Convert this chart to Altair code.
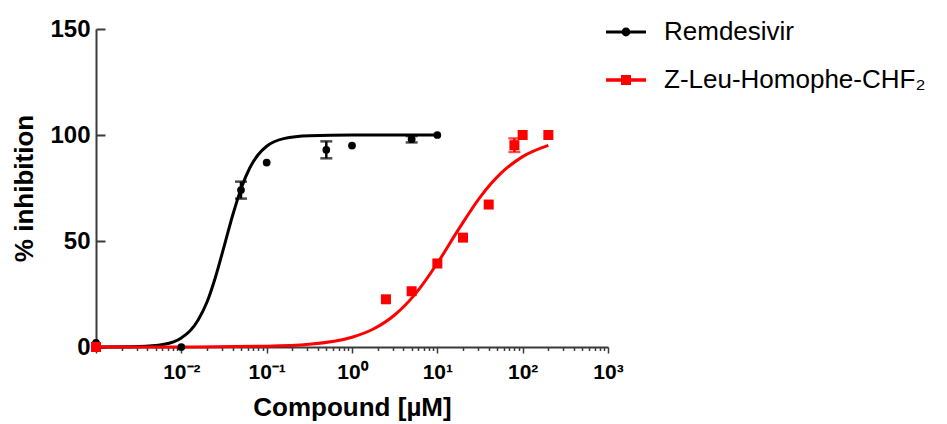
import json
import altair as alt
import pandas as pd

FONT = "Liberation Sans"
SERIES = ["Remdesivir", "Z-Leu-Homophe-CHF₂"]
COLORS = ["#000000", "#ff0000"]

# measured data points (concentration in µM, % inhibition, error)
rem_conc = [0.001, 0.01, 0.05, 0.1, 0.5, 1, 5, 10]
rem_inh = [2, 0, 74, 87, 93, 95, 98, 100]
rem_err = [0, 0, 4, 0, 4, 0, 1.5, 0]

zlh_conc = [0.001, 2.5, 5, 10, 20, 40, 80, 100, 200]
zlh_inh = [0, 22.5, 26.3, 39.4, 51.6, 67.2, 95.2, 100, 100]
zlh_err = [0, 0, 0, 0, 0, 0, 3.2, 0, 0]

# fitted curves
rem_fit_conc = [0.001, 0.00316, 0.0063, 0.01, 0.0126, 0.0158, 0.02, 0.0251, 0.0316,
                0.0398, 0.0501, 0.0631, 0.0794, 0.1, 0.158, 0.316, 1, 3.16, 10]
rem_fit_inh = [0.0, 0.2, 1.3, 4.3, 7.5, 12.9, 21.2, 32.9, 47.2,
               61.9, 74.7, 84.3, 90.7, 94.7, 98.3, 99.7, 100, 100, 100]

zlh_fit_conc = [0.001, 0.01, 0.1, 0.316, 1, 1.78, 3.16, 5.62, 10, 17.8, 31.6, 56.2, 100, 200]
zlh_fit_inh = [0.0, 0.03, 0.4, 1.3, 4.6, 8.5, 15.1, 25.4, 39.5, 55.6, 70.6, 82.1, 89.8, 95.1]

# axes
y_ticks = [0, 50, 100, 150]
x_decade_labels = ["", "10⁻²", "10⁻¹", "10⁰", "10¹", "10²", "10³"]
minor_mantissas = [1, 2, 3, 4, 5, 6, 7, 8, 9]
decade_exps = [-3, -2, -1, 0, 1, 2]

x_values = [float(f"{m}e{k}") for k in decade_exps for m in minor_mantissas] + [1000.0]

points = pd.concat([
    pd.DataFrame({"series": SERIES[0], "conc": rem_conc, "inh": rem_inh, "err": rem_err}),
    pd.DataFrame({"series": SERIES[1], "conc": zlh_conc, "inh": zlh_inh, "err": zlh_err}),
], ignore_index=True)
points["lo"] = points["inh"] - points["err"]
points["hi"] = points["inh"] + points["err"]

curves = pd.concat([
    pd.DataFrame({"series": SERIES[0], "conc": rem_fit_conc, "inh": rem_fit_inh}),
    pd.DataFrame({"series": SERIES[1], "conc": zlh_fit_conc, "inh": zlh_fit_inh}),
], ignore_index=True)

AX = "#3a3a3a"
x_scale = alt.Scale(type="log", domain=[0.001, 1000], nice=False)
y_scale = alt.Scale(domain=[0, 150], nice=False, zero=False)

major_test = "abs(log(datum.value)/LN10 - round(log(datum.value)/LN10)) < 0.01"
label_expr = ("(" + major_test + ") ? " + json.dumps(x_decade_labels, ensure_ascii=False)
              + "[round(log(datum.value)/LN10) + 3] : ''")

x_axis = alt.Axis(
    values=x_values, labelExpr=label_expr, labelOverlap=False, labelFlush=False,
    tickSize={"condition": {"test": major_test, "value": 6}, "value": 3.5},
    tickWidth=1.5, tickColor=AX, domainColor=AX, domainWidth=2, grid=False,
    labelFont=FONT, labelFontSize=21, labelFontWeight="bold", labelColor="#000",
    labelPadding=8,
    title="Compound [µM]", titleFont=FONT, titleFontSize=26, titleFontWeight="bold",
    titleColor="#000", titlePadding=12,
)
x_enc = alt.X("conc:Q", scale=x_scale, axis=x_axis)

y_left = alt.Axis(
    values=y_ticks, ticks=False, grid=False, domainColor=AX, domainWidth=2,
    labelFont=FONT, labelFontSize=24, labelFontWeight="bold", labelColor="#000",
    labelPadding=6,
    title="% inhibition", titleFont=FONT, titleFontSize=26, titleFontWeight="bold",
    titleColor="#000", titlePadding=12,
)
# second left axis moved inside the plot: its outward ticks become the inward ticks
y_inner = alt.Axis(
    orient="left", offset=-9, values=y_ticks, ticks=True, tickSize=9, tickWidth=2,
    tickColor=AX, labels=False, domain=False, grid=False, title=None,
)


def stroke_enc():
    return alt.Stroke("series:N", scale=alt.Scale(domain=SERIES, range=COLORS), legend=None)


def fill_enc():
    return alt.Fill("series:N", scale=alt.Scale(domain=SERIES, range=COLORS), legend=None)


base_pts = alt.Chart(points)

# legend symbols: line with a dot / line with a square
path_circle = ("M-1,-0.075H-0.2V0.075H-1Z M0.2,-0.075H1V0.075H0.2Z "
               "M-0.22,0A0.22,0.22 0 1,1 0.22,0A0.22,0.22 0 1,1 -0.22,0Z")
path_square = ("M-1,-0.085H-0.24V0.085H-1Z M0.24,-0.085H1V0.085H0.24Z "
               "M-0.25,-0.25H0.25V0.25H-0.25Z")

leg = alt.Legend(
    orient="none", legendX=510, legendY=-17, title=None, direction="vertical",
    labelFont=FONT, labelFontSize=26, labelColor="#000", labelLimit=500,
    symbolSize=1600, symbolStrokeWidth=0, labelOffset=18, rowPadding=15, padding=0,
)
legend_layer = base_pts.transform_filter("false").mark_point(filled=True, opacity=1).encode(
    x=x_enc,
    y=alt.Y("inh:Q", scale=y_scale, axis=None),
    color=alt.Color("series:N", scale=alt.Scale(domain=SERIES, range=COLORS), legend=leg),
    shape=alt.Shape("series:N", scale=alt.Scale(domain=SERIES, range=[path_circle, path_square]), legend=leg),
)

curve_layer = alt.Chart(curves).mark_line(strokeWidth=3, interpolate="monotone").encode(
    x=x_enc,
    y=alt.Y("inh:Q", scale=y_scale, axis=y_left),
    stroke=stroke_enc(),
    detail="series:N",
)

err_base = base_pts.transform_filter("datum.err > 0")
err_rule = err_base.mark_rule(strokeWidth=2.5).encode(
    x=x_enc,
    y=alt.Y("lo:Q", scale=y_scale, axis=None),
    y2="hi:Q",
    stroke=stroke_enc(),
)
cap_lo = err_base.mark_tick(orient="horizontal", size=12, thickness=2.5).encode(
    x=x_enc,
    y=alt.Y("lo:Q", scale=y_scale, axis=None),
    fill=fill_enc(),
)
cap_hi = err_base.mark_tick(orient="horizontal", size=12, thickness=2.5).encode(
    x=x_enc,
    y=alt.Y("hi:Q", scale=y_scale, axis=None),
    fill=fill_enc(),
)

black_pts = base_pts.transform_filter(alt.datum.series == SERIES[0]).mark_circle(size=60, opacity=1).encode(
    x=x_enc,
    y=alt.Y("inh:Q", scale=y_scale, axis=y_inner),
    fill=fill_enc(),
)
red_pts = base_pts.transform_filter(alt.datum.series == SERIES[1]).mark_square(size=100, opacity=1).encode(
    x=x_enc,
    y=alt.Y("inh:Q", scale=y_scale, axis=None),
    fill=fill_enc(),
)

chart = alt.layer(
    legend_layer, curve_layer, err_rule, cap_lo, cap_hi, black_pts, red_pts
).resolve_axis(y="independent").properties(
    width=512, height=318,
    padding={"left": 88, "top": 21, "right": 331, "bottom": 77},
    autosize=alt.AutoSizeParams(type="none"),
).configure(background="white", view=alt.ViewConfig(stroke=None))

chart.save("out.html", embed_options={"renderer": "svg", "actions": False})
